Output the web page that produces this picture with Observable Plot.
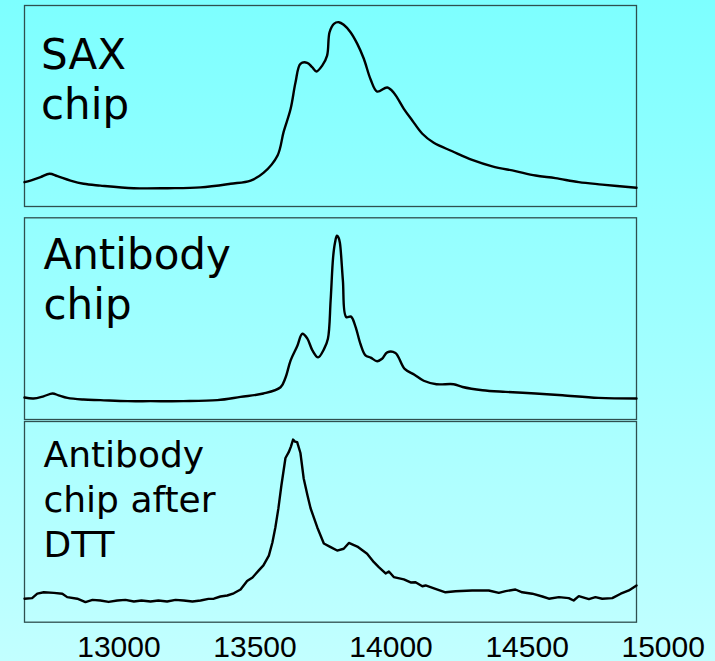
<!DOCTYPE html>
<html><head><meta charset="utf-8">
<script src="https://cdn.jsdelivr.net/npm/d3@7"></script>
<script src="https://cdn.jsdelivr.net/npm/@observablehq/plot@0.6"></script>
<style>
html,body{margin:0;padding:0;}
#chart{position:relative;width:715px;height:661px;background:linear-gradient(to bottom,#7dffff 0%,#c2ffff 100%);overflow:hidden;}
#chart svg{position:absolute;left:0;background:transparent;}
</style></head><body><div id="chart"></div>
<script>
const massRange = [12653, 14902];
const tickValues = [13000, 13500, 14000, 14500, 15000];
const panelLabels = ["SAX\nchip", "Antibody\nchip", "Antibody\nchip after\nDTT"];

const saxMass = [12653,12675,12712,12745,12774,12822,12870,12932,13054,13179,13300,13410,13484,13531,13583,13605,13631,13649,13667,13692,13710,13726,13747,13765,13774,13790,13808,13826,13851,13876,13900,13925,13949,13986,14010,14047,14078,14115,14157,14225,14298,14372,14457,14531,14604,14690,14776,14902];
const saxIntensity = [12.1,12.9,14.6,16.3,15.1,12.9,11.3,10.4,9.1,9.1,9.5,11.3,12.9,16.7,25.4,37.0,48.6,61.8,71.0,71.5,69.3,67.2,70.1,75.1,86.7,90.9,91.7,90.4,86.7,80.9,73.5,63.2,57.2,59.2,56.6,48.6,42.8,36.2,31.7,27.5,23.2,20.0,17.6,15.4,14.1,12.1,10.9,9.3];

const abMass = [12653,12686,12723,12756,12778,12811,12870,12932,13032,13116,13237,13362,13447,13531,13594,13612,13631,13655,13674,13692,13711,13732,13754,13768,13778,13787,13794,13801,13807,13812,13823,13835,13853,13869,13888,13906,13925,13949,13967,13986,14016,14050,14086,14120,14167,14230,14263,14336,14421,14531,14630,14762,14902];
const abIntensity = [10.9,10.4,11.5,12.9,12.0,10.7,9.9,9.6,9.1,9.1,9.1,9.6,11.2,12.9,16.0,20.7,29.3,36.3,42.5,40.2,34.3,30.8,35.0,40.0,59.1,80.3,87.6,91.1,90.2,87.6,69.0,50.8,51.0,46.2,37.3,31.8,30.7,28.9,30.1,33.3,33.0,25.1,22.2,19.2,17.5,17.5,16.1,14.5,13.7,12.9,12.0,10.7,10.4];

const dttMass = [12653,12681,12700,12724,12761,12792,12810,12847,12877,12903,12932,12962,12994,13024,13055,13083,13116,13145,13177,13208,13238,13270,13300,13329,13349,13373,13398,13422,13447,13471,13491,13514,13531,13551,13564,13575,13586,13597,13612,13624,13632,13640,13647,13655,13667,13679,13693,13704,13729,13753,13778,13802,13826,13845,13876,13912,13937,13955,13980,13992,14010,14047,14072,14090,14115,14127,14163,14200,14237,14298,14359,14396,14421,14457,14482,14519,14556,14580,14617,14653,14671,14690,14727,14751,14776,14813,14844,14874,14902];
const dttIntensity = [11.7,12.0,14.2,14.9,14.6,14.2,12.5,11.7,10.0,11.1,10.8,10.1,10.8,11.1,10.3,10.8,10.3,10.8,10.3,11.1,10.8,10.3,10.8,11.6,11.7,12.8,13.3,14.4,16.3,20.5,22.3,25.8,28.3,33.2,39.7,47.3,56.7,68.1,81.8,84.7,87.5,91.0,90.0,89.7,84.3,71.6,63.1,56.9,47.2,39.2,37.4,35.7,36.6,39.5,37.7,34.1,29.9,27.4,24.3,25.3,22.5,21.3,19.8,19.9,17.9,18.3,16.6,14.9,15.4,15.8,15.8,14.6,15.5,16.3,14.9,14.2,12.8,11.7,12.5,12.0,10.8,13.0,11.5,12.5,11.7,12.0,14.2,15.8,18.3];

const rows = (m, v) => m.map((d, i) => ({mass: d, intensity: v[i]}));

const panels = [
  {data: rows(saxMass, saxIntensity), label: panelLabels[0], top: 0, height: 211, mt: 5, mb: 5, fs: 42, lh: 50/42, dx: 16.5, dy: 27.5, curve: "catmull-rom", axis: false},
  {data: rows(abMass, abIntensity), label: panelLabels[1], top: 211, height: 209, mt: 6.3, mb: 1, fs: 42, lh: 50/42, dx: 19, dy: 15.2, curve: "catmull-rom", axis: false},
  {data: rows(dttMass, dttIntensity), label: panelLabels[2], top: 420, height: 241, mt: 1, mb: 39.3, fs: 36, lh: 45/36, dx: 19, dy: 14, curve: "linear", axis: true}
];

const chart = document.getElementById("chart");
for (const p of panels) {
  const marks = [
    Plot.frame({stroke: "#2f4f4f", strokeWidth: 1.3}),
    Plot.line(p.data, {x: "mass", y: "intensity", stroke: "black", strokeWidth: 2.4, curve: p.curve}),
    Plot.text([p.label], {text: d => d, frameAnchor: "top-left", lineAnchor: "top", dx: p.dx, dy: p.dy, fontSize: p.fs, lineHeight: p.lh, fontFamily: "DejaVu Sans", fill: "black"})
  ];
  if (p.axis) marks.push(Plot.axisX({ticks: tickValues, tickSize: 0, tickPadding: 13, fontSize: 30, fontFamily: "Liberation Sans", fill: "black", tickFormat: d => String(d), label: null}));
  const svg = Plot.plot({
    width: 715, height: p.height,
    marginLeft: 24, marginRight: 79, marginTop: p.mt, marginBottom: p.mb,
    x: {domain: massRange, axis: null, label: null},
    y: {domain: [0, 100], axis: null},
    style: {background: "transparent", overflow: "visible"},
    marks
  });
  svg.style.top = p.top + "px";
  chart.appendChild(svg);
}
</script></body></html>
